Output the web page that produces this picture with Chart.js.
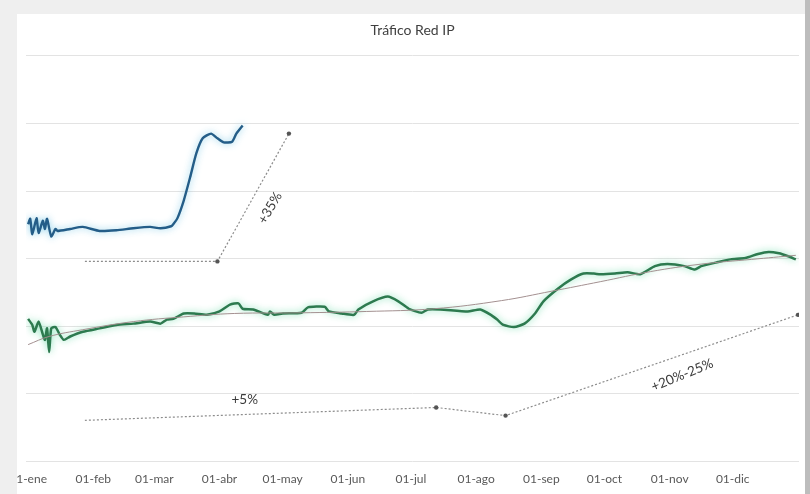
<!DOCTYPE html>
<html>
<head>
<meta charset="utf-8">
<script src="https://cdn.jsdelivr.net/npm/chart.js@4"></script>
<style>
  html, body { margin: 0; padding: 0; background: #efefef; }
  body { width: 810px; height: 494px; position: relative; overflow: hidden; }
  #edge { position: absolute; left: 805px; top: 0; width: 5px; height: 494px; background: #bdbdbd; }
  #box { position: absolute; left: 17px; top: 14px; width: 788px; height: 480px; background: #fff; overflow: hidden; }
  #inner { position: absolute; left: -17px; top: -14px; width: 805px; height: 496px; }
</style>
</head>
<body>
<div id="edge"></div>
<div id="box"><div id="inner"><canvas id="chart"></canvas></div></div>
<script>
// Month ticks (day of year 2020) and their labels
const monthDays = [0, 31, 60, 91, 121, 152, 182, 213, 244, 274, 305, 335];
const monthLabels = ['01-ene', '01-feb', '01-mar', '01-abr', '01-may', '01-jun', '01-jul', '01-ago', '01-sep', '01-oct', '01-nov', '01-dic'];

// Blue series (Jan - mid April)
const blueDays = [0, 1, 2, 4, 5, 7, 8, 9, 11, 13, 14, 20, 26, 34, 42, 50, 58, 63, 68, 69, 71, 74, 77, 80, 83, 87, 90, 93, 97, 99, 102];
const blueValues = [35.1, 35.9, 33.6, 36.0, 33.8, 35.6, 34.4, 35.9, 33.3, 34.4, 34.1, 34.4, 34.7, 34.1, 34.2, 34.5, 34.7, 34.5, 34.8, 35.1, 36.0, 38.6, 42.0, 45.6, 47.8, 48.5, 47.8, 47.2, 47.3, 48.5, 49.7];

// Green series (whole year)
const greenDays = [0, 2, 3, 5, 7, 8, 9, 10, 11, 13, 15, 17, 20, 26, 34, 42, 50, 58, 63, 66, 69, 74, 79, 85, 91, 96, 100, 102, 107, 114, 115, 117, 121, 130, 133, 141, 143, 149, 155, 157, 164, 171, 176, 181, 187, 190, 196, 209, 215, 220, 223, 226, 231, 236, 241, 245, 252, 258, 264, 269, 272, 279, 285, 291, 298, 304, 312, 317, 320, 328, 334, 341, 347, 352, 357, 361, 365];
const greenValues = [21.1, 20.2, 19.2, 20.7, 18.8, 18.0, 19.7, 16.2, 19.7, 19.9, 18.8, 18.0, 18.5, 19.2, 19.7, 20.2, 20.4, 20.7, 20.4, 21.0, 21.1, 21.9, 21.9, 21.7, 22.2, 23.2, 23.4, 22.6, 22.5, 21.7, 22.2, 21.7, 21.9, 22.0, 22.8, 22.9, 22.2, 21.9, 21.7, 22.5, 23.7, 24.4, 23.7, 22.6, 22.0, 22.5, 22.5, 22.2, 22.5, 21.7, 21.0, 20.2, 19.9, 20.4, 21.9, 23.7, 25.6, 26.9, 27.8, 27.8, 27.7, 27.8, 28.0, 27.7, 28.9, 29.2, 28.9, 28.4, 28.9, 29.5, 29.9, 30.1, 30.7, 31.0, 30.8, 30.4, 29.9];

// Trend line of the green series
const trendDays = [0, 10, 26, 50, 74, 98, 130, 161, 193, 225, 249, 272, 296, 320, 344, 365];
const trendValues = [17.3, 18.5, 19.5, 20.7, 21.4, 21.9, 22.0, 22.2, 22.6, 23.8, 25.2, 26.6, 28.1, 29.2, 29.9, 30.5];

// Annotation arrows
const upDays = [27, 90, 124];
const upValues = [29.6, 29.6, 48.5];
const lowDays = [27, 194, 227, 366];
const lowValues = [6.1, 8.0, 6.8, 21.7];

// Annotation texts: [label, day, value, angle]
const notes = [
    ['+35%', 115, 37.5, -60],
    ['+5%', 103, 9.1, 0],
    ['+20%-25%', 311, 12.8, -22]
];

function toPoints(days, values) {
    return days.map((d, i) => ({ x: d, y: values[i] }));
}

const glowPlugin = {
    id: 'glow',
    beforeDatasetDraw(chart, args) {
        const ds = chart.data.datasets[args.index];
        chart.ctx.save();
        if (ds.glow) {
            chart.ctx.shadowColor = ds.glow;
            chart.ctx.shadowBlur = 7;
        }
    },
    afterDatasetDraw(chart) {
        chart.ctx.restore();
    }
};

const notesPlugin = {
    id: 'notes',
    afterDatasetsDraw(chart) {
        const ctx = chart.ctx;
        const xs = chart.scales.x, ys = chart.scales.y;
        ctx.save();
        ctx.fillStyle = '#3a3a3a';
        ctx.font = '13.5px Lato';
        ctx.textAlign = 'center';
        ctx.textBaseline = 'middle';
        notes.forEach(n => {
            ctx.save();
            ctx.translate(xs.getPixelForValue(n[1]), ys.getPixelForValue(n[2]));
            ctx.rotate(n[3] * Math.PI / 180);
            ctx.fillText(n[0], 0, 0);
            ctx.restore();
        });
        ctx.restore();
    }
};

new Chart(document.getElementById('chart'), {
    type: 'line',
    data: {
        datasets: [
            {
                data: toPoints(trendDays, trendValues),
                borderColor: '#a39090',
                borderWidth: 1,
                pointRadius: 0,
                tension: 0.4
            },
            {
                data: toPoints(greenDays, greenValues),
                borderColor: '#2d7a4f',
                borderWidth: 2.5,
                pointRadius: 0,
                tension: 0.2,
                glow: 'rgba(110,220,170,0.9)'
            },
            {
                data: toPoints(blueDays, blueValues),
                borderColor: '#245d88',
                borderWidth: 2.4,
                pointRadius: 0,
                tension: 0.2,
                glow: 'rgba(120,200,230,0.9)'
            },
            {
                data: toPoints(upDays, upValues),
                borderColor: '#8c8c8c',
                borderWidth: 1.2,
                borderDash: [2, 2],
                pointRadius: [0, 2.2, 2.2],
                pointBackgroundColor: '#555',
                pointBorderWidth: 0,
                tension: 0
            },
            {
                data: toPoints(lowDays, lowValues),
                borderColor: '#8c8c8c',
                borderWidth: 1.2,
                borderDash: [2, 2],
                pointRadius: [0, 2.2, 2.2, 2.2],
                pointBackgroundColor: '#555',
                pointBorderWidth: 0,
                tension: 0
            }
        ]
    },
    options: {
        responsive: true,
        maintainAspectRatio: false,
        animation: false,
        layout: {
            padding: { left: 26, right: 6, top: 14, bottom: 8 }
        },
        plugins: {
            legend: { display: false },
            tooltip: { enabled: false },
            title: {
                display: true,
                text: 'Tráfico Red IP',
                color: '#404040',
                font: { family: 'Lato', size: 14, weight: 'normal' },
                padding: { top: 8, bottom: 17 }
            }
        },
        scales: {
            x: {
                type: 'linear',
                min: -1,
                max: 366.5,
                grid: { display: false },
                border: { display: false },
                afterBuildTicks(axis) {
                    axis.ticks = monthDays.map(d => ({ value: d }));
                },
                ticks: {
                    autoSkip: false,
                    maxRotation: 0,
                    padding: 2,
                    color: '#595959',
                    font: { family: 'Lato', size: 12 },
                    callback(value) {
                        const i = monthDays.indexOf(value);
                        return i >= 0 ? monthLabels[i] : '';
                    }
                }
            },
            y: {
                min: 0,
                max: 60,
                ticks: { display: false, stepSize: 10 },
                grid: { color: '#e3e3e3', drawTicks: false },
                border: { display: false }
            }
        }
    },
    plugins: [glowPlugin, notesPlugin]
});
</script>
</body>
</html>
